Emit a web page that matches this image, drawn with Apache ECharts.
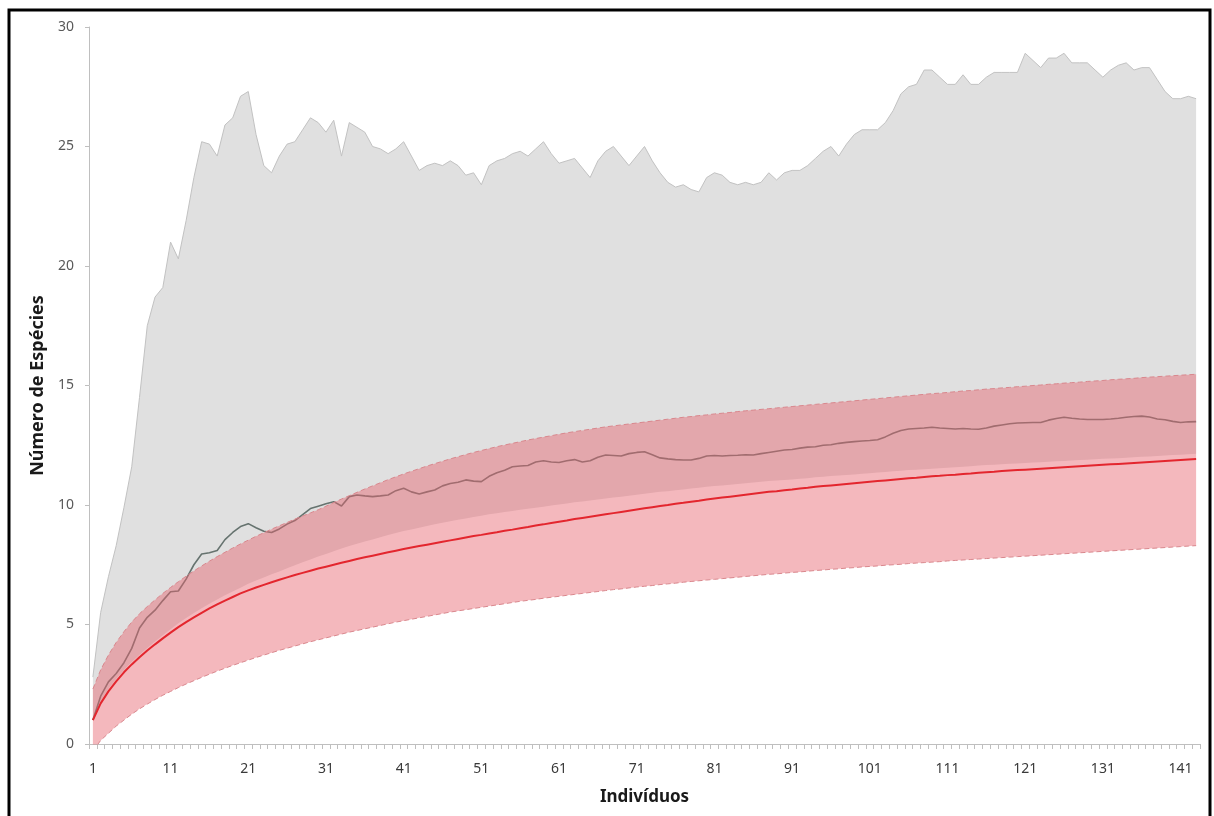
<!DOCTYPE html>
<html>
<head>
<meta charset="utf-8">
<script src="https://cdn.jsdelivr.net/npm/echarts@6/dist/echarts.min.js"></script>
<style>
html,body{margin:0;padding:0;background:#fff;}
#chart{width:1214px;height:816px;}
</style>
</head>
<body>
<div id="chart"></div>
<script>
// Individuals 1..143 (category axis)
const individuals = Array.from({length: 143}, (_, i) => String(i + 1));

// Upper edge of the grey envelope
const grayTop = [2.8, 5.5, 7.0, 8.3, 9.9, 11.6, 14.5, 17.5, 18.7, 19.1,
 21.0, 20.3, 21.9, 23.7, 25.2, 25.1, 24.6, 25.9, 26.2, 27.1,
 27.3, 25.5, 24.2, 23.9, 24.6, 25.1, 25.2, 25.7, 26.2, 26.0,
 25.6, 26.1, 24.6, 26.0, 25.8, 25.6, 25.0, 24.9, 24.7, 24.9,
 25.2, 24.6, 24.0, 24.2, 24.3, 24.2, 24.4, 24.2, 23.8, 23.9,
 23.4, 24.2, 24.4, 24.5, 24.7, 24.8, 24.6, 24.9, 25.2, 24.7,
 24.3, 24.4, 24.5, 24.1, 23.7, 24.4, 24.8, 25.0, 24.6, 24.2,
 24.6, 25.0, 24.4, 23.9, 23.5, 23.3, 23.4, 23.2, 23.1, 23.7,
 23.9, 23.8, 23.5, 23.4, 23.5, 23.4, 23.5, 23.9, 23.6, 23.9,
 24.0, 24.0, 24.2, 24.5, 24.8, 25.0, 24.6, 25.1, 25.5, 25.7,
 25.7, 25.7, 26.0, 26.5, 27.2, 27.5, 27.6, 28.2, 28.2, 27.9,
 27.6, 27.6, 28.0, 27.6, 27.6, 27.9, 28.1, 28.1, 28.1, 28.1,
 28.9, 28.6, 28.3, 28.7, 28.7, 28.9, 28.5, 28.5, 28.5, 28.2,
 27.9, 28.2, 28.4, 28.5, 28.2, 28.3, 28.3, 27.8, 27.3, 27.0,
 27.0, 27.1, 27.0];

// Lower edge of the grey envelope
const grayLow = [1.10, 1.80, 2.30, 2.72, 3.10, 3.43, 3.73, 4.02, 4.29, 4.55,
 4.80, 5.05, 5.27, 5.48, 5.68, 5.87, 6.05, 6.22, 6.38, 6.54,
 6.70, 6.84, 6.97, 7.10, 7.22, 7.35, 7.48, 7.60, 7.72, 7.84,
 7.95, 8.06, 8.18, 8.28, 8.38, 8.47, 8.56, 8.65, 8.74, 8.83,
 8.91, 8.98, 9.05, 9.12, 9.19, 9.26, 9.32, 9.38, 9.44, 9.50,
 9.55, 9.61, 9.66, 9.71, 9.75, 9.80, 9.84, 9.89, 9.93, 9.98,
 10.02, 10.06, 10.11, 10.15, 10.19, 10.23, 10.27, 10.31, 10.35, 10.39,
 10.43, 10.47, 10.51, 10.55, 10.58, 10.62, 10.65, 10.69, 10.72, 10.76,
 10.79, 10.82, 10.85, 10.88, 10.91, 10.94, 10.97, 11.00, 11.02, 11.05,
 11.07, 11.10, 11.12, 11.16, 11.18, 11.21, 11.23, 11.26, 11.28, 11.31,
 11.33, 11.36, 11.38, 11.41, 11.43, 11.46, 11.47, 11.50, 11.52, 11.54,
 11.56, 11.58, 11.60, 11.62, 11.65, 11.67, 11.68, 11.71, 11.73, 11.74,
 11.76, 11.78, 11.79, 11.81, 11.83, 11.84, 11.86, 11.88, 11.89, 11.91,
 11.93, 11.95, 11.96, 11.98, 12.00, 12.02, 12.03, 12.05, 12.07, 12.09,
 12.10, 12.12, 12.14];

// Observed species accumulation (dark grey line)
const observed = [1.0, 2.0, 2.6, 2.95, 3.4, 4.0, 4.85, 5.3, 5.6, 6.0,
 6.37, 6.4, 6.9, 7.5, 7.95, 8.0, 8.1, 8.55, 8.85, 9.1,
 9.22, 9.05, 8.9, 8.85, 9.0, 9.2, 9.35, 9.6, 9.85, 9.95,
 10.05, 10.14, 9.96, 10.35, 10.42, 10.38, 10.35, 10.38, 10.42, 10.6,
 10.7, 10.55, 10.46, 10.55, 10.63, 10.8, 10.9, 10.95, 11.05, 11.0,
 10.98, 11.2, 11.35, 11.45, 11.6, 11.63, 11.65, 11.8, 11.85, 11.8,
 11.78, 11.85, 11.9, 11.8, 11.85, 12.0, 12.09, 12.07, 12.05, 12.15,
 12.2, 12.23, 12.1, 11.97, 11.93, 11.9, 11.88, 11.88, 11.95, 12.05,
 12.07, 12.05, 12.07, 12.08, 12.1, 12.09, 12.15, 12.2, 12.25, 12.3,
 12.32, 12.38, 12.42, 12.44, 12.5, 12.52, 12.58, 12.62, 12.65, 12.68,
 12.7, 12.73, 12.85, 13.0, 13.12, 13.18, 13.2, 13.22, 13.25, 13.22,
 13.2, 13.18, 13.2, 13.18, 13.17, 13.22, 13.3, 13.35, 13.4, 13.43,
 13.44, 13.45, 13.45, 13.55, 13.62, 13.67, 13.63, 13.6, 13.58, 13.58,
 13.58, 13.6, 13.63, 13.67, 13.7, 13.72, 13.68, 13.6, 13.57, 13.5,
 13.45, 13.48, 13.49];

// Rarefaction mean (red line)
const meanCurve = [1.00, 1.70, 2.20, 2.62, 3.00, 3.33, 3.63, 3.91, 4.17, 4.42,
 4.66, 4.89, 5.10, 5.30, 5.49, 5.67, 5.84, 6.00, 6.15, 6.30,
 6.43, 6.55, 6.66, 6.77, 6.87, 6.97, 7.07, 7.16, 7.25, 7.34,
 7.42, 7.50, 7.58, 7.66, 7.74, 7.81, 7.88, 7.95, 8.02, 8.09,
 8.16, 8.22, 8.28, 8.34, 8.40, 8.46, 8.52, 8.58, 8.64, 8.70,
 8.75, 8.81, 8.86, 8.92, 8.97, 9.03, 9.08, 9.14, 9.19, 9.25,
 9.30, 9.35, 9.41, 9.46, 9.51, 9.56, 9.61, 9.66, 9.71, 9.76,
 9.81, 9.86, 9.91, 9.96, 10.00, 10.05, 10.09, 10.14, 10.18, 10.23,
 10.27, 10.31, 10.35, 10.39, 10.43, 10.47, 10.51, 10.55, 10.58, 10.62,
 10.65, 10.69, 10.72, 10.76, 10.79, 10.82, 10.85, 10.88, 10.91, 10.94,
 10.97, 11.00, 11.03, 11.06, 11.09, 11.12, 11.14, 11.17, 11.20, 11.22,
 11.25, 11.27, 11.30, 11.32, 11.35, 11.37, 11.39, 11.42, 11.44, 11.46,
 11.48, 11.50, 11.52, 11.54, 11.56, 11.58, 11.60, 11.62, 11.64, 11.66,
 11.68, 11.70, 11.72, 11.74, 11.76, 11.78, 11.80, 11.82, 11.84, 11.86,
 11.88, 11.90, 11.92];

// Confidence band upper edge
const upperBand = [2.30, 3.10, 3.72, 4.25, 4.70, 5.10, 5.45, 5.75, 6.03, 6.30,
 6.55, 6.79, 7.02, 7.24, 7.45, 7.65, 7.84, 8.02, 8.20, 8.37,
 8.53, 8.69, 8.84, 8.99, 9.13, 9.27, 9.41, 9.54, 9.67, 9.80,
 9.95, 10.10, 10.25, 10.39, 10.53, 10.67, 10.80, 10.93, 11.06, 11.18,
 11.30, 11.41, 11.52, 11.63, 11.73, 11.83, 11.93, 12.02, 12.11, 12.20,
 12.28, 12.36, 12.44, 12.51, 12.58, 12.65, 12.72, 12.78, 12.84, 12.90,
 12.96, 13.02, 13.07, 13.12, 13.17, 13.22, 13.27, 13.31, 13.35, 13.39,
 13.43, 13.47, 13.51, 13.55, 13.59, 13.63, 13.67, 13.70, 13.74, 13.77,
 13.81, 13.84, 13.87, 13.91, 13.94, 13.97, 14.00, 14.03, 14.06, 14.09,
 14.12, 14.15, 14.18, 14.21, 14.24, 14.27, 14.30, 14.33, 14.36, 14.39,
 14.42, 14.45, 14.48, 14.51, 14.54, 14.57, 14.60, 14.63, 14.66, 14.68,
 14.71, 14.74, 14.77, 14.79, 14.82, 14.85, 14.87, 14.90, 14.92, 14.95,
 14.97, 15.00, 15.02, 15.05, 15.07, 15.10, 15.12, 15.14, 15.17, 15.19,
 15.21, 15.24, 15.26, 15.28, 15.30, 15.33, 15.35, 15.37, 15.39, 15.41,
 15.43, 15.45, 15.47];

// Confidence band lower edge
const lowerBand = [-0.30, 0.15, 0.45, 0.75, 1.00, 1.25, 1.47, 1.67, 1.86, 2.04,
 2.20, 2.36, 2.51, 2.65, 2.79, 2.92, 3.05, 3.17, 3.29, 3.40,
 3.51, 3.62, 3.72, 3.82, 3.92, 4.01, 4.10, 4.19, 4.28, 4.36,
 4.44, 4.52, 4.60, 4.68, 4.75, 4.82, 4.89, 4.96, 5.03, 5.10,
 5.16, 5.22, 5.28, 5.34, 5.40, 5.46, 5.52, 5.57, 5.62, 5.67,
 5.72, 5.77, 5.82, 5.87, 5.92, 5.97, 6.01, 6.05, 6.10, 6.14,
 6.18, 6.22, 6.26, 6.30, 6.34, 6.38, 6.42, 6.46, 6.49, 6.53,
 6.57, 6.60, 6.63, 6.67, 6.70, 6.73, 6.77, 6.80, 6.83, 6.86,
 6.89, 6.92, 6.95, 6.98, 7.01, 7.04, 7.07, 7.10, 7.12, 7.15,
 7.18, 7.20, 7.23, 7.26, 7.28, 7.31, 7.33, 7.36, 7.38, 7.41,
 7.43, 7.45, 7.48, 7.50, 7.52, 7.55, 7.57, 7.59, 7.61, 7.63,
 7.66, 7.68, 7.70, 7.72, 7.74, 7.76, 7.78, 7.80, 7.82, 7.84,
 7.86, 7.88, 7.90, 7.92, 7.94, 7.96, 7.98, 8.00, 8.02, 8.04,
 8.06, 8.08, 8.10, 8.12, 8.14, 8.16, 8.18, 8.20, 8.22, 8.24,
 8.26, 8.28, 8.30];

const yTicks = {min: 0, max: 30, interval: 5};

// Stacking helpers built from the arrays above
const grayRange = grayTop.map((v, i) => +(v - grayLow[i]).toFixed(3));
const bandRange = upperBand.map((v, i) => +(v - lowerBand[i]).toFixed(3));

const FONT = 'Noto Sans';
const chart = echarts.init(document.getElementById('chart'), null, {renderer: 'canvas'});
const common = {type: 'line', symbol: 'none', silent: true, animation: false, smooth: false};

chart.setOption({
  animation: false,
  backgroundColor: '#ffffff',
  textStyle: {fontFamily: FONT},
  grid: {left: 89, right: 14, top: 27, bottom: 72, containLabel: false},
  xAxis: {
    type: 'category',
    data: individuals,
    boundaryGap: true,
    name: 'Indivíduos',
    nameLocation: 'middle',
    nameGap: 45,
    nameTextStyle: {fontFamily: FONT, fontSize: 17, fontWeight: 'bold', color: '#1a1a1a'},
    axisLine: {lineStyle: {color: '#bfbfbf', width: 1}},
    axisTick: {show: true, interval: 0, length: 5, lineStyle: {color: '#bfbfbf'}},
    axisLabel: {interval: 9, fontFamily: FONT, fontSize: 14, color: '#3a3a3a', margin: 18},
    splitLine: {show: false}
  },
  yAxis: {
    type: 'value',
    min: yTicks.min, max: yTicks.max, interval: yTicks.interval,
    name: 'Número de Espécies',
    nameLocation: 'middle',
    nameGap: 40,
    nameTextStyle: {fontFamily: FONT, fontSize: 18, fontWeight: 'bold', color: '#1a1a1a'},
    axisLine: {show: true, lineStyle: {color: '#bfbfbf', width: 1}},
    axisTick: {show: true, length: 4, lineStyle: {color: '#bfbfbf'}},
    axisLabel: {fontFamily: FONT, fontSize: 14, color: '#595959', margin: 15},
    splitLine: {show: false}
  },
  series: [
    Object.assign({}, common, {
      name: 'grayBase', stack: 'gray', data: grayLow,
      lineStyle: {opacity: 0, width: 0}, z: 1
    }),
    Object.assign({}, common, {
      name: 'grayRange', stack: 'gray', data: grayRange,
      lineStyle: {color: '#c2c2c2', width: 1},
      areaStyle: {color: '#e0e0e0', opacity: 1}, z: 1
    }),
    Object.assign({}, common, {
      name: 'observed', data: observed,
      lineStyle: {color: '#66736f', width: 1.6}, z: 2
    }),
    Object.assign({}, common, {
      name: 'bandBase', stack: 'band', stackStrategy: 'all', data: lowerBand,
      lineStyle: {color: '#d9878d', width: 1, type: [5, 3]}, z: 3
    }),
    Object.assign({}, common, {
      name: 'bandRange', stack: 'band', stackStrategy: 'all', data: bandRange,
      lineStyle: {color: '#d9878d', width: 1, type: [5, 3]},
      areaStyle: {color: 'rgba(230,100,112,0.46)', opacity: 1}, z: 3
    }),
    Object.assign({}, common, {
      name: 'mean', data: meanCurve,
      lineStyle: {color: '#e3262e', width: 2}, z: 4
    })
  ],
  graphic: [{
    type: 'rect',
    shape: {x: 9, y: 10, width: 1201, height: 820},
    style: {fill: 'none', stroke: '#000000', lineWidth: 3},
    silent: true, z: 100
  }]
});
</script>
</body>
</html>
